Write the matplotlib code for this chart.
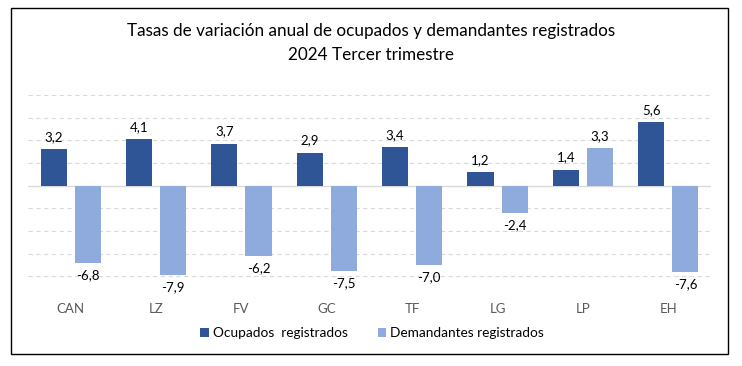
import numpy as np
import matplotlib.pyplot as plt
from matplotlib.patches import Rectangle

# Datos
categorias = ['CAN', 'LZ', 'FV', 'GC', 'TF', 'LG', 'LP', 'EH']
ocupados = [3.2, 4.1, 3.7, 2.9, 3.4, 1.2, 1.4, 5.6]
demandantes = [-6.8, -7.9, -6.2, -7.5, -7.0, -2.4, 3.3, -7.6]
series = ['Ocupados  registrados', 'Demandantes registrados']
colores = ['#2F5597', '#8FAADC']

plt.rcParams['font.family'] = ['Lato', 'DejaVu Sans']

fig = plt.figure(figsize=(7.42, 3.66), dpi=100)
ax = fig.add_axes([28 / 742, 1 - 299 / 366, 683 / 742, 204 / 366])

x = np.arange(len(categorias))
w = 0.305
off = 0.2
b1 = ax.bar(x - off, ocupados, w, color=colores[0], label=series[0])
b2 = ax.bar(x + off, demandantes, w, color=colores[1], label=series[1])

for bars in (b1, b2):
    for r in bars:
        v = r.get_height()
        txt = f'{v:.1f}'.replace('.', ',')
        cx = r.get_x() + r.get_width() / 2
        if v >= 0:
            ax.annotate(txt, (cx, v), xytext=(0, 4.5), textcoords='offset points',
                        ha='center', va='bottom', fontsize=9.5, color='black')
        else:
            ax.annotate(txt, (cx, v), xytext=(0, -4.5), textcoords='offset points',
                        ha='center', va='top', fontsize=9.5, color='black')

ax.set_xlim(-0.5, len(categorias) - 0.5)
ax.set_ylim(-10, 8)
for y in range(-10, 9, 2):
    if y == 0:
        ax.axhline(0, color='#D9D9D9', lw=1, zorder=0)
    else:
        ax.axhline(y, color='#D9D9D9', lw=0.8, ls=(0, (4, 3)), zorder=0)

ax.set_yticks([])
ax.set_xticks([])
for s in ax.spines.values():
    s.set_visible(False)
for i, c in enumerate(categorias):
    ax.text(i, -10.85, c, ha='center', va='center', fontsize=9.5, color='#595959')

fig.text(0.5, 1 - 31 / 366, 'Tasas de variación anual de ocupados y demandantes registrados',
         ha='center', va='center', fontsize=12.3)
fig.text(0.5, 1 - 55 / 366, '2024 Tercer trimestre', ha='center', va='center', fontsize=12.3)

fig.legend(loc='center', bbox_to_anchor=(372 / 742, 1 - 333 / 366), ncol=2, frameon=False,
           fontsize=9.8, handlelength=0.6, handleheight=0.6, handletextpad=0.3,
           columnspacing=2.2, labelcolor='black')

fig.patches.append(Rectangle((11 / 742, 1 - 354 / 366), 717 / 742, 346 / 366,
                             transform=fig.transFigure, fill=False, ec='black', lw=1))

fig.savefig('out.png', dpi=100)
